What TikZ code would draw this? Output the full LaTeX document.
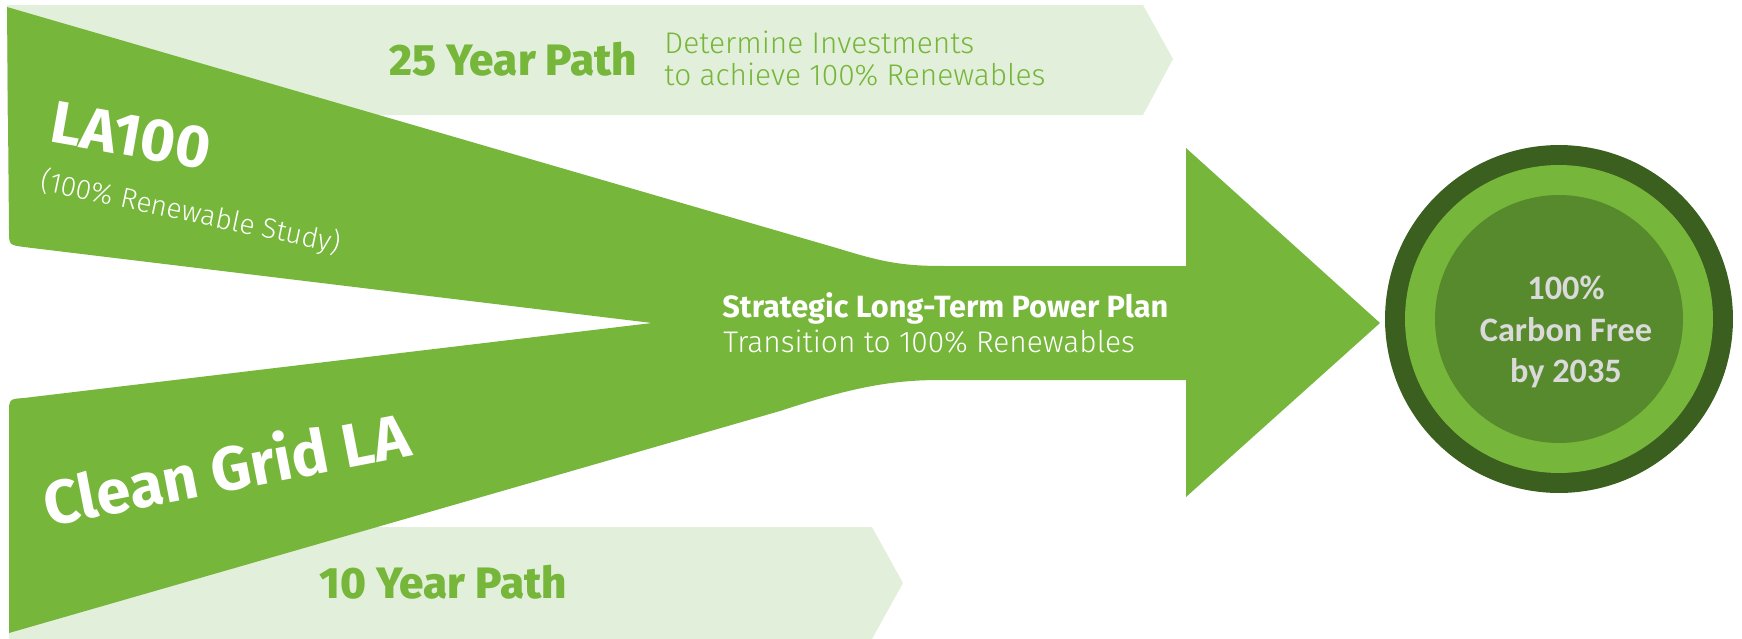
\documentclass[tikz,border=0pt]{standalone}
\usepackage{fontspec}
\setmainfont{Fira Sans}
\newfontfamily\lightfont{Fira Sans Light}
\newfontfamily\heavyfont{Fira Sans ExtraBold}
\newfontfamily\goalfont{Carlito}
\usetikzlibrary{positioning}
\definecolor{leafgreen}{HTML}{76B63A}
\definecolor{palegreen}{HTML}{E2EFDA}
\definecolor{darkolive}{HTML}{3B5F1F}
\definecolor{mossgreen}{HTML}{578A2C}
\definecolor{fogtext}{HTML}{DADADA}

\begin{document}
\begin{tikzpicture}[x=0.02cm,y=-0.02cm,
    pathtag/.style={text=leafgreen,inner sep=0pt,anchor=base,font=\heavyfont\fontsize{25}{30}\selectfont},
    bandnote/.style={text=leafgreen,inner sep=0pt,align=left,font=\lightfont\fontsize{17}{18.2}\selectfont},
    ring/.style={circle,inner sep=0pt,minimum size=#1}]
            \useasboundingbox (0,0) rectangle (1742,639);
            \fill[palegreen] (7,5)--(1143,5)--(1173,59)--(1143,115)--(7,115)--cycle;
            \fill[palegreen] (9,527)--(872,527)--(903,583)--(872,639)--(9,639)--cycle;
            \fill[leafgreen] (7,7)--(840,249) .. controls (885,263) and (905,266) .. (945,266)--(1186,266)--(1186,148)
                --(1380,323)--(1186,497)--(1186,380)--(940,380) .. controls (890,380) and (850,388) .. (780,411)
                --(9,633)--(9,414) .. controls (9,399) .. (24,398)--(652,323)--(24,247) .. controls (9,245) .. (9,230)--cycle;
            \node[ring=6.96cm,fill=darkolive] (outer) at (1559,319) {};
            \node[ring=6.16cm,fill=leafgreen] (middle) at (outer) {};
            \node[ring=4.96cm,fill=mossgreen] (inner) at (outer) {};
            \node[pathtag] (path25) at (513,75) {25 Year Path};
            \node[bandnote,right=0.54cm of path25] (invest) {Determine Investments\\to achieve 100\% Renewables};
            \node[pathtag] (path10) at (443,598) {10 Year Path};
            \node[rotate=-10,white,inner sep=0pt,font=\bfseries\fontsize{34}{38}\selectfont] (la100) at (131,136) {LA100};
            \node[rotate=-12,white,inner sep=0pt,font=\lightfont\fontsize{16}{18}\selectfont] (la100sub) at (191,213) {(100\% Renewable Study)};
            \node[rotate=11,white,inner sep=0pt,font=\bfseries\fontsize{35}{38}\selectfont] (cleangrid) at (226,467) {Clean Grid LA};
            \node[anchor=base west,white,inner sep=0pt,font=\bfseries\fontsize{17.5}{20}\selectfont] (sltpp) at (722,317) {Strategic Long-Term Power Plan};
            \node[anchor=base west,white,inner sep=0pt,font=\lightfont\fontsize{17}{20}\selectfont] (transition) at (723,352) {Transition to 100\% Renewables};
            \node[text=fogtext,inner sep=0pt,align=center,font=\goalfont\bfseries\fontsize{19.5}{23.6}\selectfont] (goal) at (1566,332) {100\%\\Carbon Free\\by 2035};
        \end{tikzpicture}
\end{document}
